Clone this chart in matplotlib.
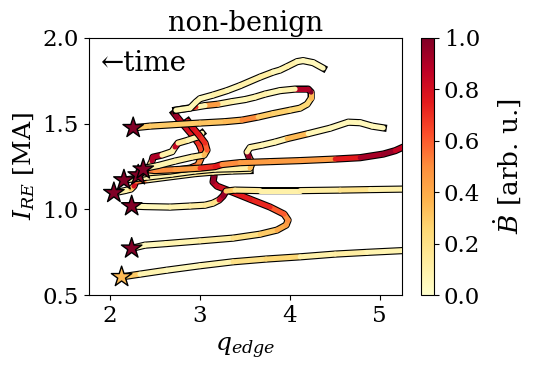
import numpy as np
import matplotlib

matplotlib.use("Agg")
import matplotlib.pyplot as plt
from matplotlib.collections import LineCollection
from matplotlib.cm import ScalarMappable

plt.rcParams["font.family"] = "DejaVu Serif"
plt.rcParams["mathtext.fontset"] = "dejavuserif"
plt.rcParams["font.size"] = 16.5

# trajectories: first point is where the star sits (end of the discharge)
q1 = [2.127, 2.331, 2.629, 3.000, 3.368, 3.736, 4.115, 4.505, 4.858, 5.285]
i1 = [0.606, 0.622, 0.645, 0.671, 0.694, 0.710, 0.723, 0.739, 0.749, 0.760]
b1 = [0.30, 0.08, 0.05, 0.08, 0.20, 0.25, 0.10, 0.12, 0.08, 0.10]

q2 = [2.239, 2.387, 2.621, 3.000, 3.368, 3.669, 3.858, 3.959, 3.981, 3.936,
      3.780, 3.557, 3.334, 3.190, 3.145, 3.156, 3.145]
i2 = [0.772, 0.791, 0.800, 0.816, 0.832, 0.855, 0.879, 0.908, 0.937, 0.972,
      1.013, 1.059, 1.106, 1.135, 1.159, 1.194, 1.229]
b2 = [0.05, 0.05, 0.08, 0.12, 0.20, 0.30, 0.40, 0.45, 0.50, 0.60,
      0.72, 0.75, 0.80, 0.85, 0.95, 0.98, 0.95]

q3 = [2.239, 2.387, 2.666, 2.889, 3.056, 3.145, 3.212, 3.256, 3.290, 3.390,
      3.669, 4.115, 4.560, 4.895, 5.285]
i3 = [1.019, 1.016, 1.013, 1.019, 1.024, 1.036, 1.054, 1.077, 1.106, 1.112,
      1.109, 1.109, 1.112, 1.115, 1.118]
b3 = [0.05, 0.05, 0.08, 0.12, 0.15, 0.20, 0.85, 0.95, 0.30, 0.15,
      0.10, 0.12, 0.18, 0.10, 0.12]

q4 = [2.041, 2.164, 2.231, 2.264, 2.287, 2.420, 2.688, 2.944, 3.145, 3.357, 3.557]
i4 = [1.096, 1.109, 1.118, 1.135, 1.164, 1.173, 1.191, 1.208, 1.217, 1.223, 1.226]
b4 = [0.08, 0.10, 0.30, 0.80, 0.55, 0.10, 0.10, 0.15, 0.10, 0.10, 0.10]

q5 = [2.153, 2.275, 2.420, 2.688, 2.944, 3.167, 3.390, 3.557, 3.580, 3.546,
      3.524, 3.557, 3.691, 3.836, 3.970, 4.204, 4.449, 4.650, 4.783, 4.917, 5.040]
i5 = [1.170, 1.179, 1.188, 1.205, 1.223, 1.234, 1.237, 1.240, 1.269, 1.304,
      1.334, 1.360, 1.374, 1.392, 1.412, 1.441, 1.473, 1.508, 1.505, 1.485, 1.475]
b5 = [0.08, 0.08, 0.08, 0.10, 0.12, 0.08, 0.10, 0.35, 0.50, 0.95,
      0.10, 0.10, 0.06, 0.08, 0.35, 0.06, 0.05, 0.06, 0.05, 0.05, 0.05]

q6 = [2.312, 2.443, 2.666, 2.889, 2.978, 3.011, 3.022, 2.989, 2.933, 2.866,
      2.799, 2.744, 2.710]
i6 = [1.199, 1.214, 1.223, 1.240, 1.258, 1.298, 1.339, 1.380, 1.421, 1.462,
      1.503, 1.538, 1.561]
b6 = [0.10, 0.15, 0.20, 0.60, 0.50, 0.55, 0.65, 0.70, 0.75, 0.80,
      0.85, 0.95, 1.00]

q7 = [2.368, 2.498, 2.721, 3.000, 3.167, 3.245, 3.446, 3.780, 4.115, 4.505,
      4.783, 5.040, 5.174, 5.285]
i7 = [1.233, 1.226, 1.231, 1.240, 1.249, 1.261, 1.272, 1.278, 1.284, 1.293,
      1.301, 1.322, 1.342, 1.368]
b7 = [0.55, 0.50, 0.45, 0.70, 0.75, 0.50, 0.45, 0.45, 0.45, 0.75,
      0.92, 0.95, 0.85, 0.80]

q8 = [2.387, 2.431, 2.465, 2.476, 2.576, 2.688, 2.721, 2.755, 2.866, 2.967, 3.022]
i8 = [1.234, 1.246, 1.281, 1.304, 1.316, 1.336, 1.363, 1.386, 1.403, 1.421, 1.444]
b8 = [0.10, 0.20, 0.90, 0.90, 0.10, 0.10, 0.85, 0.15, 0.08, 0.08, 0.10]

q9 = [2.387, 2.532, 2.721, 2.911, 3.045, 3.078, 3.056, 2.989, 2.922, 2.866]
i9 = [1.240, 1.255, 1.281, 1.304, 1.316, 1.345, 1.386, 1.433, 1.473, 1.514]
b9 = [0.10, 0.08, 0.10, 0.15, 0.35, 0.60, 0.70, 0.75, 0.80, 0.90]

q10 = [2.256, 2.443, 2.721, 3.000, 3.279, 3.468, 3.647, 3.814, 4.003, 4.115,
       4.193, 4.237, 4.237, 4.204, 4.059, 3.891, 3.725, 3.613, 3.502, 3.357,
       3.201, 3.056, 2.955, 2.833, 2.732]
i10 = [1.475, 1.485, 1.494, 1.503, 1.511, 1.520, 1.538, 1.558, 1.578, 1.590,
       1.613, 1.648, 1.683, 1.701, 1.701, 1.692, 1.672, 1.654, 1.640, 1.628,
       1.613, 1.605, 1.596, 1.587, 1.578]
b10 = [0.30, 0.30, 0.30, 0.32, 0.35, 0.50, 0.30, 0.28, 0.25, 0.25,
       0.25, 0.35, 1.00, 0.90, 0.08, 0.06, 0.10, 0.08, 0.06, 0.10,
       0.45, 0.08, 0.70, 0.08, 0.06]

q11 = [2.732, 2.889, 2.955, 3.000, 3.145, 3.301, 3.446, 3.669, 3.814, 3.891,
       3.970, 4.081, 4.148, 4.260, 4.371]
i11 = [1.578, 1.590, 1.625, 1.645, 1.666, 1.692, 1.721, 1.771, 1.800, 1.812,
       1.832, 1.861, 1.867, 1.855, 1.823]
b11 = [0.06, 0.06, 0.08, 0.05, 0.10, 0.06, 0.10, 0.12, 0.06, 0.08,
       0.10, 0.06, 0.05, 0.05, 0.05]

trajectories = [
    (q1, i1, b1), (q2, i2, b2), (q3, i3, b3), (q4, i4, b4), (q5, i5, b5),
    (q6, i6, b6), (q7, i7, b7), (q8, i8, b8), (q9, i9, b9), (q10, i10, b10),
    (q11, i11, b11),
]

# stars at the final point of the shots that have one
star_q = [2.127, 2.239, 2.239, 2.041, 2.153, 2.312, 2.368, 2.256]
star_i = [0.606, 0.772, 1.019, 1.096, 1.170, 1.199, 1.233, 1.475]
star_b = [0.35, 1.0, 1.0, 1.0, 1.0, 1.0, 1.0, 1.0]

cmap = plt.get_cmap("YlOrRd")
norm = plt.Normalize(0.0, 1.0)

fig = plt.figure(figsize=(5.34, 3.67), dpi=100)
ax = fig.add_axes([0.166, 0.196, 0.587, 0.701])
cax = fig.add_axes([0.788, 0.196, 0.025, 0.701])

for k, (q, ire, bdot) in enumerate(trajectories):
    ax.plot(q, ire, color="k", lw=5.2, solid_joinstyle="round", zorder=2 + 2 * k)
    pts = np.column_stack([q, ire]).reshape(-1, 1, 2)
    segs = np.concatenate([pts[:-1], pts[1:]], axis=1)
    lc = LineCollection(segs, cmap=cmap, norm=norm, linewidths=3.6,
                        capstyle="round", zorder=3 + 2 * k)
    lc.set_array(np.asarray(bdot[:-1]))
    ax.add_collection(lc)

ax.scatter(star_q, star_i, marker="*", s=240, c=star_b, cmap=cmap, norm=norm,
           edgecolors="k", linewidths=1.0, zorder=100)

ax.set_xlim(1.76, 5.25)
ax.set_ylim(0.5, 2.0)
ax.set_xticks([2, 3, 4, 5])
ax.set_yticks([0.5, 1.0, 1.5, 2.0])
ax.set_xlabel(r"$q_{edge}$", fontsize=18, labelpad=6)
ax.set_ylabel(r"$I_{RE}$ [MA]", fontsize=18)
ax.set_title("non-benign", fontsize=19.5, pad=5)
ax.text(0.04, 0.9, "\u2190time", transform=ax.transAxes, va="center", ha="left",
        fontsize=20)

cb = fig.colorbar(ScalarMappable(norm=norm, cmap=cmap), cax=cax)
cb.set_ticks([0.0, 0.2, 0.4, 0.6, 0.8, 1.0])
cb.set_label(r"$\dot{B}$ [arb. u.]", fontsize=19, labelpad=8)

fig.savefig("out.png", dpi=100)
